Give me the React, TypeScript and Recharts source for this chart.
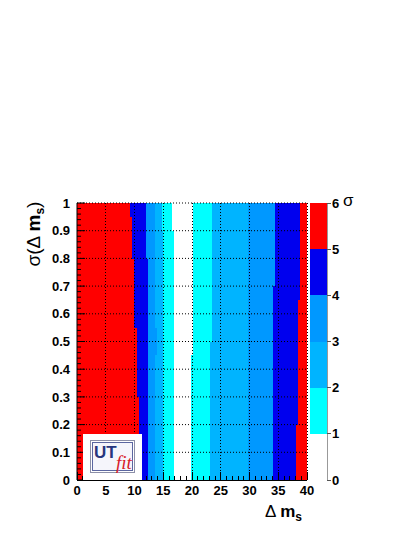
import { BarChart, Bar, XAxis, YAxis, ComposedChart, CartesianGrid, ReferenceLine } from 'recharts'

// sigma(dm_s) rows, bottom (0.00) to top (0.95), each 0.05 high
const rowStarts = ['0.00', '0.05', '0.10', '0.15', '0.20', '0.25', '0.30', '0.35', '0.40', '0.45',
  '0.50', '0.55', '0.60', '0.65', '0.70', '0.75', '0.80', '0.85', '0.90', '0.95']

// x positions (dm_s) where the colour changes in each row, left to right
const redLeft = [10.8, 10.8, 10.8, 10.8, 10.8, 10.8, 10.4, 10.4, 10.4, 10.4, 10.4, 9.9, 9.9, 9.9, 9.9, 9.9, 9.6, 9.6, 9.6, 9.2]
const blueLeft = [12.35, 12.35, 12.35, 12.35, 12.35, 12.35, 12.35, 12.35, 12.35, 12.35, 12.35, 12.35, 12.35, 12.35, 12.35, 12.35, 12.0, 12.0, 12.0, 12.0]
const s3Left = [13.6, 13.6, 13.6, 13.6, 13.6, 13.6, 13.6, 13.6, 13.6, 13.9, 13.9, 13.6, 13.6, 13.6, 13.6, 13.6, 13.6, 13.6, 13.6, 13.6]
const s2Left = [14.9, 14.9, 14.9, 14.9, 14.9, 14.9, 14.9, 14.9, 14.9, 14.9, 14.9, 14.9, 14.9, 14.9, 14.9, 14.9, 14.9, 14.9, 14.8, 14.8]
const s1Left = [16.8, 16.8, 16.8, 16.8, 16.8, 16.8, 16.8, 16.8, 16.8, 16.8, 16.8, 16.8, 16.8, 16.8, 16.8, 16.8, 16.8, 16.8, 16.5, 16.5]
const s1Right = [19.9, 19.9, 19.9, 19.9, 19.9, 19.9, 19.9, 19.9, 19.9, 20.1, 20.1, 20.1, 20.1, 20.1, 20.1, 20.1, 20.1, 20.1, 20.1, 20.1]
const s2Right = [23.2, 23.2, 23.2, 23.2, 23.2, 23.2, 23.2, 23.2, 23.2, 23.2, 23.5, 23.5, 23.5, 23.5, 23.5, 23.5, 23.5, 23.5, 23.5, 23.5]
const s3Right = [29.8, 29.8, 29.8, 29.8, 29.8, 29.8, 29.8, 29.8, 29.8, 29.8, 29.8, 29.8, 29.8, 29.8, 29.8, 29.8, 29.8, 29.8, 29.8, 29.8]
const blueRight = [34.0, 34.0, 34.0, 34.0, 34.0, 34.0, 34.0, 34.0, 34.0, 34.0, 34.0, 34.0, 34.0, 34.0, 34.4, 34.4, 34.4, 34.4, 34.4, 34.4]
const redRight = [38.0, 38.0, 38.0, 38.0, 38.5, 38.5, 38.5, 38.5, 38.5, 38.5, 38.5, 38.5, 38.5, 38.8, 38.8, 38.8, 38.8, 38.8, 38.8, 38.8]

const xMax = 40
const xMajorTicks = [0, 5, 10, 15, 20, 25, 30, 35, 40]
const xMinorTicks = [0, 1, 2, 3, 4, 5, 6, 7, 8, 9, 10, 11, 12, 13, 14, 15, 16, 17, 18, 19, 20,
  21, 22, 23, 24, 25, 26, 27, 28, 29, 30, 31, 32, 33, 34, 35, 36, 37, 38, 39, 40]
const yMajorTicks = [0, 0.1, 0.2, 0.3, 0.4, 0.5, 0.6, 0.7, 0.8, 0.9, 1]
const yMinorTicks = [0, 0.02, 0.04, 0.06, 0.08, 0.1, 0.12, 0.14, 0.16, 0.18, 0.2, 0.22, 0.24, 0.26, 0.28,
  0.3, 0.32, 0.34, 0.36, 0.38, 0.4, 0.42, 0.44, 0.46, 0.48, 0.5, 0.52, 0.54, 0.56, 0.58, 0.6,
  0.62, 0.64, 0.66, 0.68, 0.7, 0.72, 0.74, 0.76, 0.78, 0.8, 0.82, 0.84, 0.86, 0.88, 0.9,
  0.92, 0.94, 0.96, 0.98, 1]

// colour scale (number of sigma)
const sigmaTicks = [0, 1, 2, 3, 4, 5, 6]
const sigmaColors = ['#ffffff', '#00ffff', '#00b4ff', '#0098ff', '#0000ee', '#ff0000']

// order of colour bands across a row
const segmentColors = [
  sigmaColors[5], sigmaColors[4], sigmaColors[3], sigmaColors[2], sigmaColors[1], sigmaColors[0],
  sigmaColors[1], sigmaColors[2], sigmaColors[3], sigmaColors[4], sigmaColors[5],
]

const rows = rowStarts.map((row, i) => {
  const edges = [0, redLeft[i], blueLeft[i], s3Left[i], s2Left[i], s1Left[i],
    s1Right[i], s2Right[i], s3Right[i], blueRight[i], redRight[i], xMax]
  const r: Record<string, number | string> = { row }
  segmentColors.forEach((_, k) => {
    r['s' + k] = +(edges[k + 1] - edges[k]).toFixed(3)
  })
  return r
})

const scaleRow = [sigmaColors.reduce((acc, _, k) => ({ ...acc, ['b' + k]: 1 }), { name: 'sigma' } as Record<string, number | string>)]

const font = '"Liberation Sans", Arial, Helvetica, sans-serif'
const isMajor = (v: number, step: number) => Math.abs(v / step - Math.round(v / step)) < 1e-6

const XTick = (props: any) => {
  const { x, y, payload } = props
  const v = payload.value as number
  const major = isMajor(v, 5)
  return (
    <g>
      <line x1={x} x2={x} y1={y} y2={y - (major ? 8 : 4)} stroke="#000" />
      {major && (
        <text x={x} y={y + 15} textAnchor="middle" fontSize={13} fontWeight="bold" fontFamily={font} fill="#000">
          {v}
        </text>
      )}
    </g>
  )
}

const YTick = (props: any) => {
  const { x, y, payload } = props
  const v = payload.value as number
  const major = isMajor(v, 0.1)
  return (
    <g>
      <line x1={x} x2={x + (major ? 8 : 4)} y1={y} y2={y} stroke="#000" />
      {major && (
        <text x={x - 7} y={y} dy="0.36em" textAnchor="end" fontSize={13} fontWeight="bold" fontFamily={font} fill="#000">
          {+v.toFixed(1)}
        </text>
      )}
    </g>
  )
}

const layer = { position: 'absolute' as const, left: 0, top: 0 }

export default function App() {
  return (
    <div style={{ position: 'absolute', left: 0, top: 0, width: 415, height: 537, background: '#fff' }}>
      {/* colour map with the dm_s axis */}
      <div style={layer}>
        <BarChart
          width={415}
          height={537}
          data={rows}
          layout="vertical"
          barCategoryGap={0}
          barGap={0}
          margin={{ top: 203, right: 108, bottom: 37, left: 77 }}
          style={{ shapeRendering: 'crispEdges' }}
        >
          <XAxis
            type="number"
            domain={[0, xMax]}
            ticks={xMinorTicks}
            interval={0}
            allowDataOverflow
            height={20}
            tickSize={0}
            tickMargin={0}
            tickLine={false}
            tick={<XTick />}
            axisLine={{ stroke: '#000' }}
          />
          <YAxis type="category" dataKey="row" hide reversed />
          {segmentColors.map((c, k) => (
            <Bar key={k} dataKey={'s' + k} stackId="a" fill={c} isAnimationActive={false} />
          ))}
          {xMajorTicks.slice(1).map((v) => (
            <ReferenceLine key={v} x={v} stroke="#000" strokeDasharray="1 2" ifOverflow="visible" />
          ))}
        </BarChart>
      </div>

      {/* sigma axis and horizontal grid drawn over the map */}
      <div style={layer}>
        <ComposedChart
          width={415}
          height={537}
          data={[]}
          margin={{ top: 203, right: 108, bottom: 57, left: 37 }}
        >
          <CartesianGrid
            vertical={false}
            horizontalValues={yMajorTicks.slice(1)}
            stroke="#000"
            strokeDasharray="1 2"
            fill="none"
          />
          <YAxis
            type="number"
            domain={[0, 1]}
            ticks={yMinorTicks}
            interval={0}
            allowDataOverflow
            width={40}
            tickSize={0}
            tickMargin={0}
            tickLine={false}
            tick={<YTick />}
            axisLine={{ stroke: '#000' }}
          />
        </ComposedChart>
      </div>

      {/* colour scale */}
      <div style={layer}>
        <BarChart
          width={415}
          height={537}
          data={scaleRow}
          barCategoryGap={0}
          margin={{ top: 203, right: 58, bottom: 57, left: 310 }}
          style={{ shapeRendering: 'crispEdges' }}
        >
          <XAxis dataKey="name" hide />
          <YAxis
            orientation="right"
            type="number"
            domain={[0, 6]}
            ticks={sigmaTicks}
            interval={0}
            allowDataOverflow
            width={30}
            tickSize={4}
            tickMargin={1}
            axisLine={{ stroke: '#999' }}
            tickLine={{ stroke: '#555' }}
            tick={{ fill: '#000', fontSize: 13, fontWeight: 'bold', fontFamily: font }}
          />
          {sigmaColors.map((c, k) => (
            <Bar key={k} dataKey={'b' + k} stackId="z" fill={c} isAnimationActive={false} />
          ))}
        </BarChart>
      </div>

      {/* colour-scale title */}
      <div style={{ position: 'absolute', left: 343, top: 191, fontFamily: font, fontSize: 17, color: '#000' }}>σ</div>

      {/* y-axis title */}
      <div
        style={{
          position: 'absolute', left: 35, top: 234, transform: 'translate(-50%, -50%) rotate(-90deg)',
          whiteSpace: 'nowrap', fontFamily: font, fontSize: 19, color: '#000', lineHeight: 1,
        }}
      >
        σ(Δ <b>m<sub style={{ fontSize: 12 }}>s</sub></b>)
      </div>

      {/* x-axis title */}
      <div style={{ position: 'absolute', left: 265, top: 503, whiteSpace: 'nowrap', fontFamily: font, fontSize: 17, color: '#000', lineHeight: 1 }}>
        Δ <b>m<sub style={{ fontSize: 12 }}>s</sub></b>
      </div>

      {/* UTfit logo */}
      <div style={{ position: 'absolute', left: 83, top: 434, width: 59, height: 46, background: '#fff' }}>
        <div
          style={{
            position: 'absolute', left: 7, top: 6, width: 43, height: 31, border: '1px solid #8c8fa8',
            boxShadow: 'inset 0 0 0 1px #fff, inset 0 0 0 2px #5b66a0', background: '#f5f5fb',
          }}
        >
          <span style={{ position: 'absolute', left: 3, top: 3, fontFamily: font, fontWeight: 'bold', fontSize: 17, color: '#27367e', lineHeight: 1 }}>
            UT
          </span>
          <span style={{ position: 'absolute', left: 25, top: 12, fontFamily: '"Liberation Serif", "DejaVu Serif", serif', fontStyle: 'italic', fontSize: 19, color: '#d8202a', lineHeight: 1 }}>
            fit
          </span>
        </div>
      </div>
    </div>
  )
}
